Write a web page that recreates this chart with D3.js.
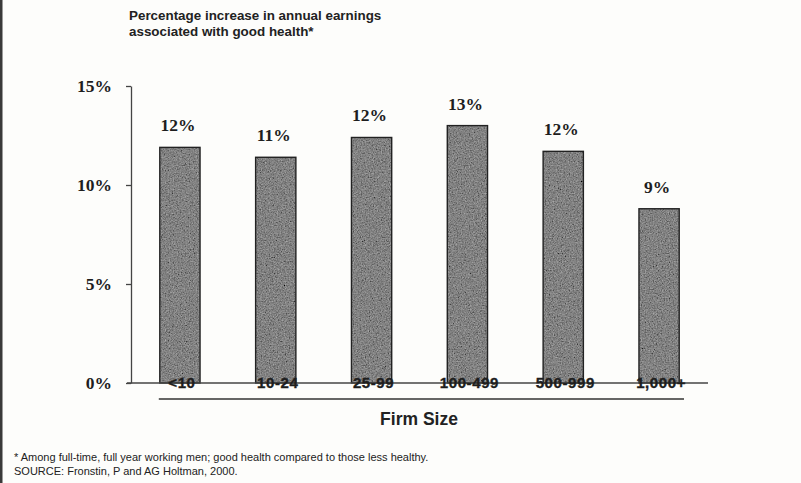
<!DOCTYPE html>
<html>
<head>
<meta charset="utf-8">
<script src="https://cdn.jsdelivr.net/npm/d3@7"></script>
<style>
  html, body { margin: 0; padding: 0; background: #fdfdfb; }
  svg { display: block; }
</style>
</head>
<body>
<script>
// Firm-size categories and the earnings premium for good health (%)
const categories = ["<10", "10-24", "25-99", "100-499", "500-999", "1,000+"];
const earningsIncrease = [11.9, 11.4, 12.4, 13.0, 11.7, 8.8];
const yTicks = [0, 5, 10, 15];
const titleLines = ["Percentage increase in annual earnings", "associated with good health*"];
const footnoteLines = [
  "* Among full-time, full year working men; good health compared to those less healthy.",
  "SOURCE: Fronstin, P and AG Holtman, 2000."
];
const xAxisTitle = "Firm Size";

const W = 801, H = 483;
const svg = d3.select("body").append("svg").attr("width", W).attr("height", H);

// Paper-like grain for the bar fill
const defs = svg.append("defs");
const f = defs.append("filter").attr("id", "grain")
  .attr("x", 0).attr("y", 0).attr("width", "100%").attr("height", "100%");
f.append("feTurbulence").attr("type", "fractalNoise").attr("baseFrequency", 0.75)
  .attr("numOctaves", 2).attr("seed", 7).attr("result", "noise");
f.append("feColorMatrix").attr("in", "noise").attr("type", "matrix")
  .attr("values", "0.33 0.33 0.33 0 0  0.33 0.33 0.33 0 0  0.33 0.33 0.33 0 0  0 0 0 0 1")
  .attr("result", "gray");
f.append("feComposite").attr("in", "SourceGraphic").attr("in2", "gray")
  .attr("operator", "arithmetic").attr("k1", 0).attr("k2", 1).attr("k3", 0.8).attr("k4", -0.4)
  .attr("result", "mix");
f.append("feComposite").attr("in", "mix").attr("in2", "SourceGraphic").attr("operator", "in");

// Left page edge
svg.append("rect").attr("x", 0).attr("y", 0).attr("width", 2.5).attr("height", H).attr("fill", "#3a3a3a");

// Scales
const x = d3.scaleBand().domain(categories).range([132, 707]).paddingInner(0.58).paddingOuter(0.29);
const y = d3.scaleLinear().domain([0, 15]).range([383, 86]);

// Title
svg.append("g").selectAll("text").data(titleLines).join("text")
  .attr("x", 129).attr("y", (d, i) => 20 + i * 16)
  .attr("font-family", "Liberation Sans, Arial, sans-serif")
  .attr("font-weight", "bold").attr("font-size", 13.4).attr("fill", "#222")
  .text(d => d);

// Y axis
const yAxis = svg.append("g").attr("transform", "translate(131,0)")
  .call(d3.axisLeft(y).tickValues(yTicks).tickSize(5).tickSizeOuter(0).tickPadding(14)
    .tickFormat(d => d + "%"));
yAxis.select(".domain").attr("stroke", "#444").attr("stroke-width", 1.3);
yAxis.selectAll(".tick line").attr("stroke", "#444").attr("stroke-width", 1.3);
yAxis.selectAll(".tick text")
  .attr("font-family", "Liberation Serif, Times New Roman, serif")
  .attr("font-weight", "bold").attr("font-size", 17.5).attr("fill", "#1e1e1e");

// Bars
const bars = svg.append("g");
bars.selectAll("rect.fill").data(earningsIncrease).join("rect").attr("class", "fill")
  .attr("x", (d, i) => x(categories[i]))
  .attr("y", d => y(d))
  .attr("width", x.bandwidth())
  .attr("height", d => y(0) - y(d))
  .attr("fill", "#828282")
  .attr("filter", "url(#grain)");
bars.selectAll("rect.edge").data(earningsIncrease).join("rect").attr("class", "edge")
  .attr("x", (d, i) => x(categories[i]))
  .attr("y", d => y(d))
  .attr("width", x.bandwidth())
  .attr("height", d => y(0) - y(d))
  .attr("fill", "none").attr("stroke", "#222").attr("stroke-width", 1.4);

// Value labels
svg.append("g").selectAll("text").data(earningsIncrease).join("text")
  .attr("x", (d, i) => x(categories[i]) + x.bandwidth() / 2 - 2)
  .attr("y", d => y(d) - 16)
  .attr("text-anchor", "middle")
  .attr("font-family", "Liberation Serif, Times New Roman, serif")
  .attr("font-weight", "bold").attr("font-size", 17.5).attr("fill", "#1e1e1e")
  .text(d => d3.format(".0f")(d) + "%");

// Baseline and category underline
svg.append("line").attr("x1", 127).attr("x2", 708).attr("y1", y(0)).attr("y2", y(0))
  .attr("stroke", "#444").attr("stroke-width", 1.5);
svg.append("line").attr("x1", x(categories[0]) - 1).attr("x2", 684).attr("y1", 399).attr("y2", 399)
  .attr("stroke", "#333").attr("stroke-width", 1.5);

// Category labels sit on the baseline
svg.append("g").selectAll("text").data(categories).join("text")
  .attr("x", d => x(d) + x.bandwidth() / 2 + 2)
  .attr("y", y(0) + 5)
  .attr("text-anchor", "middle")
  .attr("font-family", "Liberation Sans, Arial, sans-serif")
  .attr("font-weight", "bold").attr("font-size", 15).attr("letter-spacing", 0.6)
  .attr("fill", "#1e1e1e").attr("stroke", "#1e1e1e").attr("stroke-width", 0.35)
  .text(d => d);

// X axis title
svg.append("text").attr("x", 419).attr("y", 425).attr("text-anchor", "middle")
  .attr("font-family", "Liberation Sans, Arial, sans-serif")
  .attr("font-weight", "bold").attr("font-size", 17.5).attr("fill", "#222")
  .text(xAxisTitle);

// Footnotes
svg.append("g").selectAll("text").data(footnoteLines).join("text")
  .attr("x", 14).attr("y", (d, i) => 461 + i * 14)
  .attr("font-family", "Liberation Sans, Arial, sans-serif")
  .attr("font-size", 11).attr("fill", "#222")
  .text(d => d);
</script>
</body>
</html>
